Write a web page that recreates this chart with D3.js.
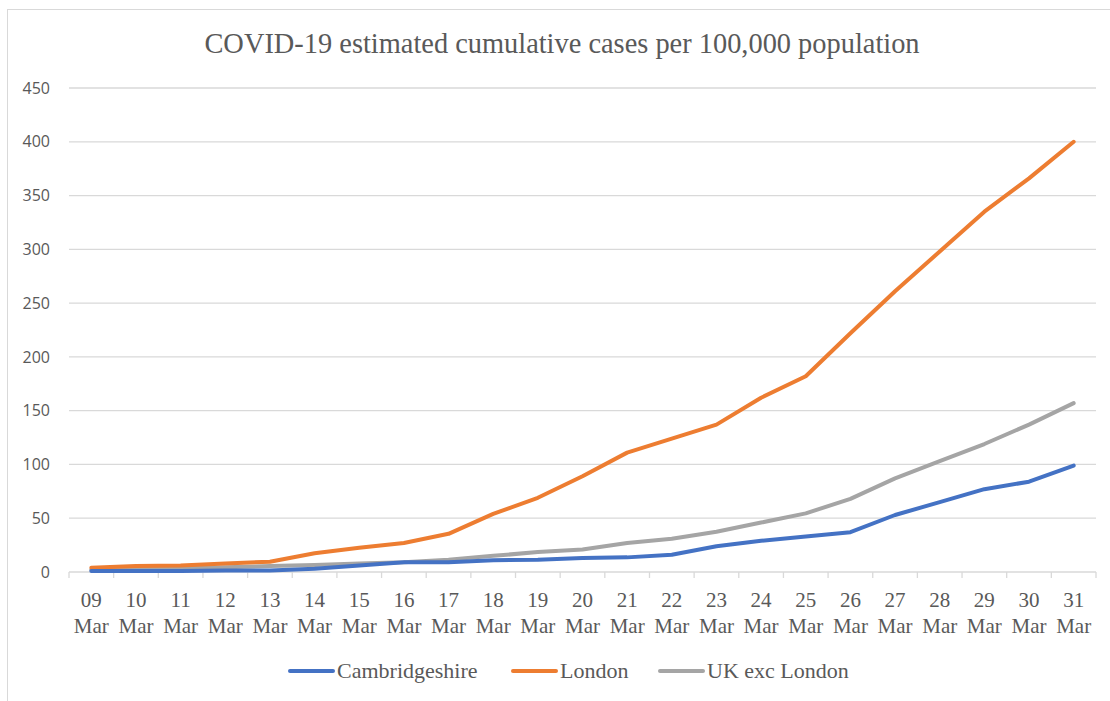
<!DOCTYPE html>
<html><head><meta charset="utf-8">
<script src="https://cdn.jsdelivr.net/npm/d3@7"></script>
<style>body{margin:0;background:#fff}svg{display:block}</style>
</head><body>
<svg id="chart" width="1110" height="701"></svg>
<script>
const days = ["09","10","11","12","13","14","15","16","17","18","19","20","21","22","23","24","25","26","27","28","29","30","31"];
const month = "Mar";
const cambridgeshire = [1,1,1,1.5,1.5,3,6,9,9,11,11.5,13,13.6,16,24,29,33,37,53,65,77,84,99];
const london = [4,5.5,6,8,9.5,17.5,22.5,27,35.5,54,69,89,111,124,137,162,182,222,261,298,335,366,400];
const ukExcLondon = [2,3,3.5,4.5,5.5,6.5,8,9,11.5,15,18.5,21,27,31,37.5,46,54.5,68,87,103,119,137,157];
const yTicks = [0,50,100,150,200,250,300,350,400,450];
const seriesNames = ["Cambridgeshire","London","UK exc London"];
const colors = ["#4472C4","#ED7D31","#A5A5A5"];
const title = "COVID-19 estimated cumulative cases per 100,000 population";

(function(){
const svg = d3.select("#chart");
const pL = 69, pR = 1096, pT = 88, pB = 572;
svg.append("rect").attr("x",7.5).attr("y",9.5).attr("width",1120).attr("height",720)
  .attr("fill","none").attr("stroke","#d9d9d9").attr("stroke-width",1);

const x = d3.scaleBand().domain(days).range([pL,pR]);
const y = d3.scaleLinear().domain([0,450]).range([pB,pT]);

svg.append("text").attr("x",562).attr("y",53).attr("text-anchor","middle")
  .attr("font-family","Liberation Serif").attr("font-size",28.4).attr("fill","#595959").text(title);

svg.append("g").selectAll("line").data(yTicks.filter(d=>d>0)).join("line")
  .attr("x1",pL).attr("x2",pR).attr("y1",d=>y(d)).attr("y2",d=>y(d))
  .attr("stroke","#d9d9d9").attr("stroke-width",1.3);

const yAxis = d3.axisLeft(y).tickValues(yTicks).tickSize(0).tickPadding(19);
const gy = svg.append("g").attr("transform",`translate(${pL},0)`).call(yAxis);
gy.select(".domain").remove();
gy.selectAll("text").attr("font-family","Open Sans").attr("font-size",16).attr("fill","#595959");

const gx = svg.append("g").attr("transform",`translate(0,${pB})`);
gx.append("line").attr("x1",pL).attr("x2",pR).attr("stroke","#d9d9d9").attr("stroke-width",1.3);
const bounds = days.map(d=>x(d)).concat([pR]);
gx.selectAll("line.tk").data(bounds).join("line").attr("class","tk")
  .attr("x1",d=>d).attr("x2",d=>d).attr("y1",0).attr("y2",6).attr("stroke","#d9d9d9").attr("stroke-width",1.3);
const lbl = gx.selectAll("text.lb").data(days).join("text").attr("class","lb")
  .attr("x",d=>x(d)+x.bandwidth()/2).attr("text-anchor","middle")
  .attr("font-family","Liberation Serif").attr("font-size",21).attr("fill","#595959");
lbl.append("tspan").attr("x",d=>x(d)+x.bandwidth()/2).attr("y",35).text(d=>d);
lbl.append("tspan").attr("x",d=>x(d)+x.bandwidth()/2).attr("y",61).text(month);

const data = [cambridgeshire, london, ukExcLondon];
const line = d3.line().x((d,i)=>x(days[i])+x.bandwidth()/2).y(d=>y(d));
const order = [2,1,0];
svg.append("g").selectAll("path").data(order).join("path")
  .attr("d",i=>line(data[i])).attr("fill","none").attr("stroke",i=>colors[i])
  .attr("stroke-width",4).attr("stroke-linejoin","round").attr("stroke-linecap","round");

const legX = [290,513,660];
const lg = svg.append("g").selectAll("g").data(seriesNames).join("g")
  .attr("transform",(d,i)=>`translate(${legX[i]},671)`);
lg.append("line").attr("x1",0).attr("x2",43).attr("stroke",(d,i)=>colors[i]).attr("stroke-width",4).attr("stroke-linecap","round");
lg.append("text").attr("x",47).attr("y",7).attr("font-family","Liberation Serif").attr("font-size",22)
  .attr("fill","#595959").text(d=>d);
})();
</script>
</body></html>
